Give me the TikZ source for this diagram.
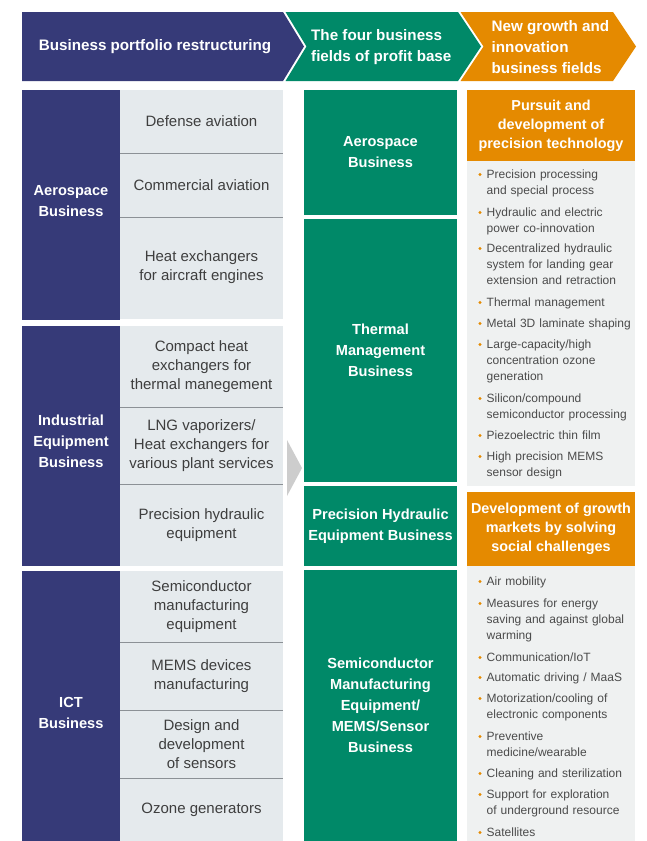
\documentclass[tikz,border=0pt]{standalone}
\usepackage{fontspec}
\setmainfont{Liberation Sans}

\definecolor{navy}{RGB}{54,58,120}
\definecolor{leaf}{RGB}{0,137,104}
\definecolor{amber}{RGB}{229,138,0}
\definecolor{cellgray}{RGB}{229,234,237}
\definecolor{panelgray}{RGB}{239,241,241}
\definecolor{rulegray}{RGB}{140,145,150}
\definecolor{arrowgray}{RGB}{205,205,205}
\definecolor{celltext}{RGB}{62,62,62}
\definecolor{bodygray}{RGB}{75,75,75}

% rectangular box given by its corners: name, x1, y1, x2, y2, fill, style, text
\newcommand\blockbox[8]{%
  \node[blockbase, fill=#6, minimum width={#4-#2}, minimum height={#5-#3}, #7]
    (#1) at ({(#2+#4)/2},{(#3+#5)/2}) {#8};}

% bullet entry: name, centre of first line, text
\newcommand\pointitem[3]{%
  \node[dot] (#1d) at (480,#2+0.5) {};
  \node[item] (#1) at (486.5,#2+4.3) {#3};}

\begin{document}
\begin{tikzpicture}[x=1pt,y=-1pt,
  blockbase/.style={rectangle, draw=none, inner sep=0pt, align=center},
  celltxt/.style={text=celltext, font=\fontsize{15}{19}\selectfont},
  boldtxt/.style={text=white, font=\bfseries\fontsize{14.6}{21}\selectfont},
  ambertxt/.style={text=white, font=\bfseries\fontsize{14.4}{19}\selectfont},
  headtxt/.style={text=white, inner sep=0pt, font=\bfseries\fontsize{15.2}{21}\selectfont},
  item/.style={anchor=base west, text width=150, align=left, inner sep=0pt,
    text=bodygray, font=\fontsize{12}{16}\selectfont},
  dot/.style={circle, fill=amber, inner sep=0pt, minimum size=3.4},
  rule/.style={draw=rulegray, line width=1.2pt}]

\useasboundingbox[fill=white] (0,0) rectangle (646,841);

% ---- header chevrons ----
\fill[navy] (22,12) -- (283,12) -- (304,46.5) -- (283,81) -- (22,81) -- cycle;
\fill[leaf] (285.5,12) -- (458,12) -- (481,46.5) -- (458,81) -- (285.5,81) -- (306.5,46.5) -- cycle;
\fill[amber] (460.5,12) -- (613,12) -- (636,46.5) -- (613,81) -- (460.5,81) -- (483.5,46.5) -- cycle;
\node[headtxt] (head1) at (155,46.5) {Business portfolio restructuring};
\node[headtxt, anchor=west, align=left] (head2) at (311,47.5) {The four business\\fields of profit base};
\node[headtxt, anchor=west, align=left] (head3) at (491.5,47) {New growth and\\innovation\\business fields};

% ---- business portfolio (left) ----
\blockbox{aeroL}{22}{90}{120}{320}{navy}{}{}
\blockbox{indL}{22}{326}{120}{566}{navy}{}{}
\blockbox{ictL}{22}{571}{120}{841}{navy}{}{}
\node[boldtxt, align=center] (aeroLt) at (71,201) {Aerospace\\Business};
\node[boldtxt, align=center] (indLt) at (71,441.5) {Industrial\\Equipment\\Business};
\node[boldtxt, align=center] (ictLt) at (71,712.5) {ICT\\Business};

\blockbox{c11}{120}{90}{283}{153}{cellgray}{celltxt}{Defense aviation}
\blockbox{c12}{120}{153}{283}{217}{cellgray}{celltxt}{Commercial aviation}
\blockbox{c13}{120}{217}{283}{320}{cellgray}{celltxt, yshift=1.5pt}{Heat exchangers\\for aircraft engines}
\blockbox{c21}{120}{326}{283}{407}{cellgray}{celltxt}{Compact heat\\exchangers for\\thermal manegement}
\blockbox{c22}{120}{407}{283}{484}{cellgray}{celltxt}{LNG vaporizers/\\Heat exchangers for\\various plant services}
\blockbox{c23}{120}{484}{283}{566}{cellgray}{celltxt}{Precision hydraulic\\equipment}
\blockbox{c31}{120}{571}{283}{642}{cellgray}{celltxt}{Semiconductor\\manufacturing\\equipment}
\blockbox{c32}{120}{642}{283}{710}{cellgray}{celltxt}{MEMS devices\\manufacturing}
\blockbox{c33}{120}{710}{283}{778}{cellgray}{celltxt}{Design and\\development\\of sensors}
\blockbox{c34}{120}{778}{283}{841}{cellgray}{celltxt}{Ozone generators}

\draw[rule] (c11.south west) -- (c11.south east);
\draw[rule] (c12.south west) -- (c12.south east);
\draw[rule] (c21.south west) -- (c21.south east);
\draw[rule] (c22.south west) -- (c22.south east);
\draw[rule] (c31.south west) -- (c31.south east);
\draw[rule] (c32.south west) -- (c32.south east);
\draw[rule] (c33.south west) -- (c33.south east);

% transition arrow
\fill[arrowgray] (287,440) -- (302,468) -- (287,496) -- cycle;

% ---- four business fields (middle) ----
\blockbox{g1}{304}{90}{457}{215}{leaf}{boldtxt}{Aerospace\\Business}
\blockbox{g2}{304}{219}{457}{482}{leaf}{boldtxt}{Thermal\\Management\\Business}
\blockbox{g3}{304}{486}{457}{566}{leaf}{boldtxt}{Precision Hydraulic\\Equipment Business}
\blockbox{g4}{304}{570}{457}{841}{leaf}{boldtxt}{Semiconductor\\Manufacturing\\Equipment/\\MEMS/Sensor\\Business}

% ---- growth and innovation fields (right) ----
\blockbox{o1}{467}{90}{635}{161}{amber}{ambertxt}{Pursuit and\\development of\\precision technology}
\blockbox{p1}{467}{161}{635}{486}{panelgray}{}{}
\blockbox{o2}{467}{492}{635}{566}{amber}{ambertxt}{Development of growth\\markets by solving\\social challenges}
\blockbox{p2}{467}{566}{635}{841}{panelgray}{}{}

\pointitem{a1}{174}{Precision processing\\and special process}
\pointitem{a2}{212}{Hydraulic and electric\\power co-innovation}
\pointitem{a3}{248}{Decentralized hydraulic\\system for landing gear\\extension and retraction}
\pointitem{a4}{302}{Thermal management}
\pointitem{a5}{323}{Metal 3D laminate shaping}
\pointitem{a6}{344}{Large-capacity/high\\concentration ozone\\generation}
\pointitem{a7}{398}{Silicon/compound\\semiconductor processing}
\pointitem{a8}{435}{Piezoelectric thin film}
\pointitem{a9}{456}{High precision MEMS\\sensor design}

\pointitem{s1}{581}{Air mobility}
\pointitem{s2}{603}{Measures for energy\\saving and against global\\warming}
\pointitem{s3}{657}{Communication/IoT}
\pointitem{s4}{677}{Automatic driving / MaaS}
\pointitem{s5}{698}{Motorization/cooling of\\electronic components}
\pointitem{s6}{736}{Preventive\\medicine/wearable}
\pointitem{s7}{773}{Cleaning and sterilization}
\pointitem{s8}{794}{Support for exploration\\of underground resource}
\pointitem{s9}{832}{Satellites}

\end{tikzpicture}
\end{document}
